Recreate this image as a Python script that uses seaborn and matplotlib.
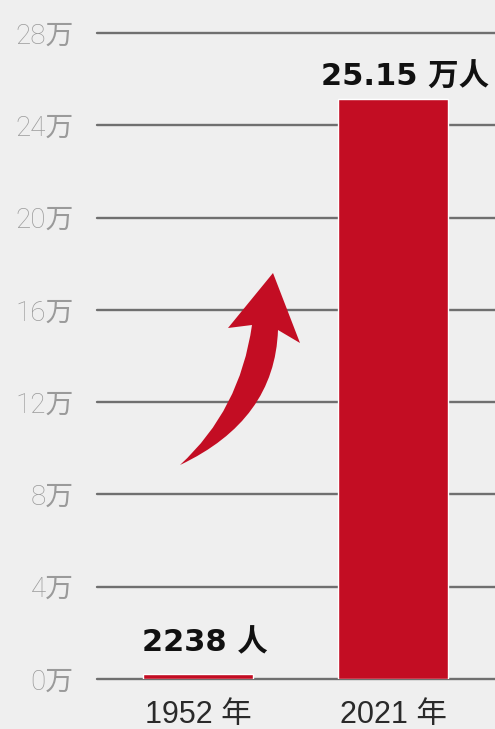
import matplotlib
matplotlib.use("Agg")
import matplotlib.pyplot as plt
import seaborn as sns
import pandas as pd
from matplotlib.path import Path
from matplotlib.patches import PathPatch

categories = ["1952 年", "2021 年"]
values_wan = [0.2238, 25.15]
value_labels = ["2238 人", "25.15 万人"]
yticks = [0, 4, 8, 12, 16, 20, 24, 28]
ytick_labels = ["0万", "4万", "8万", "12万", "16万", "20万", "24万", "28万"]

RED = "#c30d23"
BG = "#efefef"
GRID = "#6f6f6f"

sns.set_theme(style="white")
plt.rcParams["font.family"] = ["Noto Sans CJK SC", "DejaVu Sans"]

W, H = 495, 729
fig = plt.figure(figsize=(W / 100, H / 100), dpi=100, facecolor=BG)
ax = fig.add_axes([97 / W, 1 - 679 / H, (W - 97) / W, (679 - 33) / H])
ax.set_facecolor(BG)

df = pd.DataFrame({"year": categories, "value": values_wan})
sns.barplot(data=df, x="year", y="value", color=RED, saturation=1,
            width=0.564, ax=ax, zorder=3)

ax.set_ylim(0, 28)
ax.set_xlim(-0.518, 1.523)
ax.set_yticks(yticks)
ax.set_yticklabels(ytick_labels)
ax.yaxis.grid(True, color=GRID, linewidth=1.7, zorder=1)
for gl in ax.get_ygridlines():
    gl.set_clip_on(False)
ax.xaxis.grid(False)
ax.set_axisbelow(True)
for s in ax.spines.values():
    s.set_visible(False)
ax.set_xlabel("")
ax.set_ylabel("")
ax.tick_params(axis="y", length=0, pad=17, labelcolor="#9a9a9a")
ax.tick_params(axis="x", length=0, pad=15, labelcolor="#2a2a2a")
for t in ax.get_yticklabels():
    t.set_fontfamily(["Roboto", "Noto Sans CJK SC"])
    t.set_fontweight("light")
    t.set_fontsize(20)
for t in ax.get_xticklabels():
    t.set_fontfamily(["Liberation Sans", "Noto Sans CJK SC"])
    t.set_fontsize(22)

offsets = [(5, 16), (9, 9)]
for i, (v, lab) in enumerate(zip(values_wan, value_labels)):
    ax.annotate(lab, xy=(i, v), xytext=offsets[i], textcoords="offset points",
                ha="center", va="baseline", fontsize=22, fontweight="bold",
                family=["DejaVu Sans", "Noto Sans CJK SC"],
                color="#111111", zorder=5)

# decorative curved arrow (pixel coords -> figure fraction)
def px(x, y):
    return (x / W, 1 - y / H)

verts = [px(180, 465), px(240, 410), px(252, 325), px(228, 328), px(273, 273),
         px(300, 343), px(278, 330), px(275, 420), px(180, 465), px(180, 465)]
codes = [Path.MOVETO, Path.CURVE3, Path.CURVE3, Path.LINETO, Path.LINETO,
         Path.LINETO, Path.LINETO, Path.CURVE3, Path.CURVE3, Path.CLOSEPOLY]
arrow = PathPatch(Path(verts, codes), facecolor=RED, edgecolor="none",
                  transform=fig.transFigure, zorder=6)
fig.patches.append(arrow)

fig.savefig("out.png", dpi=100, facecolor=BG)
